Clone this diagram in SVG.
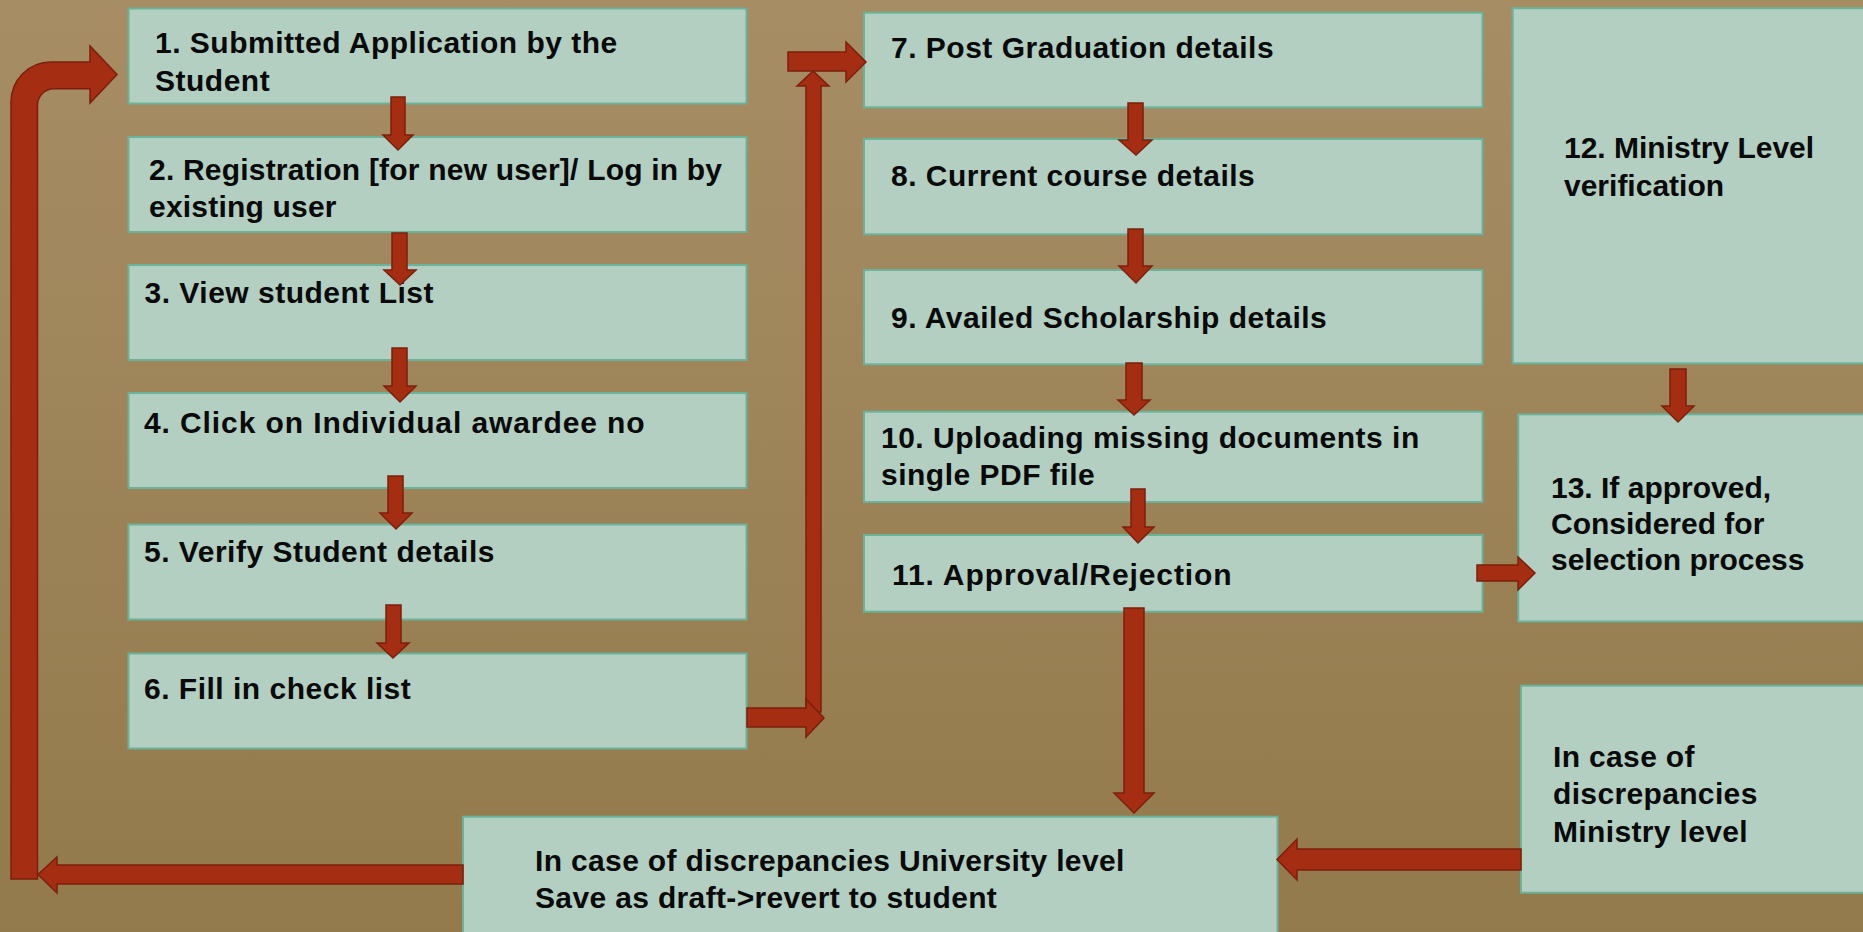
<svg xmlns="http://www.w3.org/2000/svg" width="1863" height="932" viewBox="0 0 1863 932">
<defs>
<linearGradient id="bg" x1="0" y1="0" x2="0" y2="1">
<stop offset="0" stop-color="#A68D64"/>
<stop offset="1" stop-color="#937A4C"/>
</linearGradient>
<style>
.box{fill:#B3CFC2;stroke:#6AB29A;stroke-width:2}
.t{font-family:"Liberation Sans",Arial,sans-serif;font-weight:bold;font-size:30px;fill:#0a0a0a;letter-spacing:0.5px}
.r{letter-spacing:0}
.u{letter-spacing:0.35px}
.arr{fill:#A52E12;stroke:#7C1F0B;stroke-width:1.5;stroke-linejoin:miter}
</style>
</defs>
<rect x="0" y="0" width="1863" height="932" fill="url(#bg)"/>

<g id="n1"><rect class="box" x="128.5" y="8.5" width="618" height="95"/>
<text class="t" x="155" y="53">1. Submitted Application by the</text>
<text class="t" x="155" y="91">Student</text></g>
<g id="n2"><rect class="box" x="128.5" y="137" width="618" height="95"/>
<text class="t" x="149" y="180" style="letter-spacing:0.2px">2. Registration [for new user]/ Log in by</text>
<text class="t" x="149" y="217" style="letter-spacing:0.2px">existing user</text></g>
<g id="n3"><rect class="box" x="128.5" y="265" width="618" height="95"/>
<text class="t" x="144.5" y="303">3. View student List</text></g>
<g id="n4"><rect class="box" x="128.5" y="393" width="618" height="95"/>
<text class="t" x="144" y="433" style="letter-spacing:0.9px">4. Click on Individual awardee no</text></g>
<g id="n5"><rect class="box" x="128.5" y="524.5" width="618" height="95"/>
<text class="t" x="144" y="562">5. Verify Student details</text></g>
<g id="n6"><rect class="box" x="128.5" y="653.5" width="618" height="95"/>
<text class="t" x="144" y="699">6. Fill in check list</text></g>

<g id="n7"><rect class="box" x="864" y="12.7" width="618.5" height="94.6"/>
<text class="t" x="891" y="58">7. Post Graduation details</text></g>
<g id="n8"><rect class="box" x="864" y="139" width="618.5" height="95.3"/>
<text class="t" x="891" y="186">8. Current course details</text></g>
<g id="n9"><rect class="box" x="864" y="270" width="618.5" height="94.3"/>
<text class="t" x="891" y="328">9. Availed Scholarship details</text></g>
<g id="n10"><rect class="box" x="864" y="411.7" width="618.5" height="90.3"/>
<text class="t" x="881" y="448">10. Uploading missing documents in</text>
<text class="t" x="881" y="485">single PDF file</text></g>
<g id="n11"><rect class="box" x="864" y="535" width="618.5" height="76.7"/>
<text class="t" x="892" y="585" style="letter-spacing:0.9px">11. Approval/Rejection</text></g>

<g id="n12"><rect class="box" x="1512.7" y="8.2" width="360" height="355.1"/>
<text class="t r" x="1564" y="158">12. Ministry Level</text>
<text class="t r" x="1564" y="196">verification</text></g>
<g id="n13"><rect class="box" x="1518.3" y="414.3" width="360" height="207.2"/>
<text class="t r" x="1551" y="498">13. If approved,</text>
<text class="t r" x="1551" y="534">Considered for</text>
<text class="t r" x="1551" y="569.5">selection process</text></g>
<g id="n14"><rect class="box" x="1521" y="685.7" width="360" height="207"/>
<text class="t u" x="1553" y="767">In case of</text>
<text class="t u" x="1553" y="804">discrepancies</text>
<text class="t u" x="1553" y="842">Ministry level</text></g>
<g id="n15"><rect class="box" x="463" y="816.7" width="814.5" height="130"/>
<text class="t u" x="535" y="871">In case of discrepancies University level</text>
<text class="t u" x="535" y="908">Save as draft-&gt;revert to student</text></g>

<g id="connectors">
<polygon class="arr" points="391,97 405,97 405,135 413,135 398,150 383,135 391,135"/>
<polygon class="arr" points="392,233 407,233 407,270 416,270 400,285 384,270 392,270"/>
<polygon class="arr" points="392,348 407,348 407,386 416,386 400,402 384,386 392,386"/>
<polygon class="arr" points="388,476 403,476 403,513 412,513 396,529 380,513 388,513"/>
<polygon class="arr" points="386,605 401,605 401,643 409,643 393,658 377,643 386,643"/>
<polygon class="arr" points="1128,103 1143,103 1143,140 1152,140 1136,155 1119,140 1128,140"/>
<polygon class="arr" points="1128,229 1143,229 1143,266 1152,266 1136,283 1119,266 1128,266"/>
<polygon class="arr" points="1126,363 1142,363 1142,400 1150,400 1134,415 1118,400 1126,400"/>
<polygon class="arr" points="1131,489 1145,489 1145,527 1154,527 1138,543 1123,527 1131,527"/>
<polygon class="arr" points="1124,608 1144,608 1144,793 1154,793 1134,813 1114,793 1124,793"/>
<polygon class="arr" points="1670,369 1686,369 1686,406 1694,406 1678,422 1662,406 1670,406"/>
<polygon class="arr" points="1477,565 1518,565 1518,557 1535,573 1518,590 1518,581 1477,581"/>
<polygon class="arr" points="806,712 821,712 821,86 829,86 813,71 797,86 806,86"/>
<polygon class="arr" points="747,708 806,708 806,699 824,718 806,737 806,727 747,727"/>
<polygon class="arr" points="788,52 846,52 846,42 866,62 846,82 846,71 788,71"/>
<polygon class="arr" points="1521,849 1297,849 1297,839 1277,859.5 1297,880 1297,870 1521,870"/>
<polygon class="arr" points="463,865 57,865 57,857 38,874.5 57,893 57,884 463,884"/>
<path class="arr" d="M11,879 L11,102 A40,40 0 0 1 51,62 L90,62 L90,46 L117,74.5 L90,103 L90,88.7 L54,88.7 A16.5,16.5 0 0 0 37.5,105.2 L37.5,879 Z"/>
</g>
</svg>
